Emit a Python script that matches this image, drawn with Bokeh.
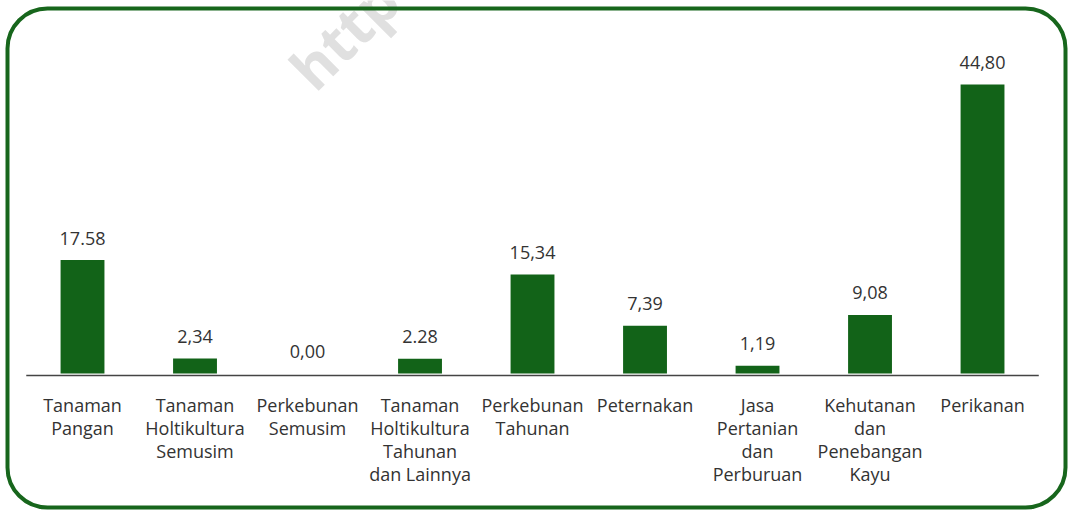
import numpy as np
from bokeh.plotting import figure
from bokeh.models import Range1d, ColumnDataSource, BoxAnnotation, Label
from bokeh.core.properties import value
from bokeh.embed import file_html
from bokeh.resources import INLINE

categories = [
    "Tanaman\nPangan",
    "Tanaman\nHoltikultura\nSemusim",
    "Perkebunan\nSemusim",
    "Tanaman\nHoltikultura\nTahunan\ndan Lainnya",
    "Perkebunan\nTahunan",
    "Peternakan",
    "Jasa\nPertanian\ndan\nPerburuan",
    "Kehutanan\ndan\nPenebangan\nKayu",
    "Perikanan",
]
values = [17.58, 2.34, 0.00, 2.28, 15.34, 7.39, 1.19, 9.08, 44.80]
value_labels = ["17.58", "2,34", "0,00", "2.28", "15,34", "7,39", "1,19", "9,08", "44,80"]

W, H = 1070, 510
GREEN = "#126318"
TEXT = "#333333"
FONT = value("Open Sans")

p = figure(width=W, height=H, output_backend="svg", toolbar_location=None,
           x_range=Range1d(-0.729, 8.782), y_range=Range1d(-21.24, 57.83),
           x_axis_location=None, y_axis_location=None,
           min_border=0, outline_line_color=None)
p.xgrid.grid_line_color = None
p.ygrid.grid_line_color = None

x = list(range(len(categories)))
src = ColumnDataSource(dict(x=x, top=values, cat=categories, lbl=value_labels))

# watermark
p.add_layout(Label(x=1.93, y=45.8, text="http", angle=np.pi / 4,
                   text_font="Open Sans", text_font_style="bold", text_font_size="58px",
                   text_color="#e0e0e0", text_align="left", text_baseline="alphabetic"))

p.vbar(x="x", top="top", bottom=0, width=0.39, source=src,
       fill_color=GREEN, line_color=None)

p.segment(x0=-0.5, y0=-0.3, x1=len(categories) - 0.5, y1=-0.3,
          line_color="#444444", line_width=1.5)

p.text(x="x", y="top", text="lbl", source=src, text_align="center",
       text_baseline="alphabetic", y_offset=-22, text_font=FONT,
       text_font_size="18px", text_color=TEXT)

p.text(x="x", y=0, text="cat", source=src, text_align="center",
       text_baseline="top", y_offset=19, text_font=FONT,
       text_font_size="18px", text_color=TEXT, text_line_height=0.96)

p.add_layout(BoxAnnotation(left=7, right=1065, top=H - 8, bottom=H - 507,
                           left_units="screen", right_units="screen",
                           top_units="screen", bottom_units="screen",
                           fill_color=None, line_color="#17661c", line_alpha=1.0,
                           line_width=4, border_radius=40))

open("out.html", "w").write(file_html(p, INLINE))
